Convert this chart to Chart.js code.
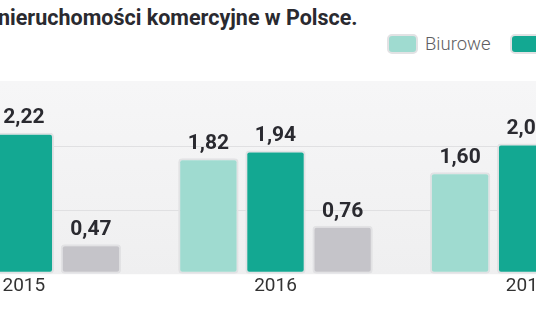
<!DOCTYPE html>
<html>
<head>
<meta charset="utf-8">
<script src="https://cdn.jsdelivr.net/npm/chart.js@4"></script>
<style>
  html, body { margin: 0; padding: 0; width: 536px; height: 332px; overflow: hidden; background: #fff; }
  #tytul { position: absolute; left: -2px; top: 5px; font: 700 21.5px Roboto, sans-serif; color: #2a2a30; white-space: nowrap; }
  #legenda { position: absolute; left: 387px; top: 33px; display: flex; white-space: nowrap; }
  .poz { display: flex; align-items: center; margin-right: 19px; }
  .kolor { width: 27px; height: 16px; border: 2px solid #e2e2e4; border-radius: 5px; margin-right: 7px; }
  .opis { font: 300 18.5px Roboto, sans-serif; color: #5e5e62; }
  #ramka { position: absolute; left: -102px; top: 0; width: 755px; height: 332px; }
</style>
</head>
<body>
<div id="tytul">nieruchomości komercyjne w Polsce.</div>
<div id="legenda"></div>
<div id="ramka"><canvas id="wykres"></canvas></div>
<script>
// dane (mld EUR) - fragment widoczny na obrazku
const lata = ['2015', '2016', '2017'];
const biurowe = [null, 1.82, 1.60];
const handlowe = [2.22, 1.94, 2.05];
const magazynowe = [0.47, 0.76, null];
const nazwySerii = ['Biurowe', 'Handlowe', 'Magazynowe'];
const kolory = ['#9fdbd0', '#13a892', '#c5c4c9'];

// legenda w HTML
const legenda = document.getElementById('legenda');
nazwySerii.forEach((nazwa, i) => {
    const poz = document.createElement('div');
    poz.className = 'poz';
    poz.innerHTML = `<div class="kolor" style="background:${kolory[i]}"></div><span class="opis">${nazwa}</span>`;
    legenda.appendChild(poz);
});

// tło obszaru wykresu
const tloPlugin = {
    id: 'tlo',
    beforeDraw(chart) {
        const { ctx, chartArea } = chart;
        const g = ctx.createLinearGradient(0, chartArea.top, 0, chartArea.bottom);
        g.addColorStop(0, '#f6f6f7');
        g.addColorStop(1, '#efeff0');
        ctx.save();
        ctx.fillStyle = g;
        ctx.fillRect(chartArea.left, chartArea.top - 2, chartArea.right - chartArea.left, chartArea.bottom - chartArea.top + 2);
        ctx.restore();
    }
};

// wartości nad słupkami
const etykietyPlugin = {
    id: 'etykiety',
    afterDatasetsDraw(chart) {
        const ctx = chart.ctx;
        ctx.save();
        ctx.font = '700 21px Roboto, sans-serif';
        ctx.fillStyle = '#2a2a30';
        ctx.textAlign = 'center';
        ctx.textBaseline = 'bottom';
        chart.data.datasets.forEach((ds, i) => {
            chart.getDatasetMeta(i).data.forEach((bar, j) => {
                const v = ds.data[j];
                if (v === null || v === undefined) return;
                ctx.fillText(v.toFixed(2).replace('.', ','), bar.x, bar.y - 4);
            });
        });
        ctx.restore();
    }
};

const serie = [biurowe, handlowe, magazynowe];

new Chart(document.getElementById('wykres'), {
    type: 'bar',
    data: {
        labels: lata,
        datasets: serie.map((dane, i) => ({
            label: nazwySerii[i],
            data: dane,
            backgroundColor: kolory[i],
            borderColor: '#e2e2e4',
            borderWidth: 2,
            borderRadius: 4,
            borderSkipped: false,
            categoryPercentage: 0.8,
            barPercentage: 0.9
        }))
    },
    options: {
        responsive: true,
        maintainAspectRatio: false,
        animation: false,
        layout: { padding: { top: 83, bottom: 41, left: 0, right: 0 } },
        plugins: {
            legend: { display: false },
            tooltip: { enabled: false }
        },
        scales: {
            x: {
                grid: { display: false },
                border: { display: false },
                ticks: {
                    padding: -7,
                    color: '#333',
                    font: { family: 'Roboto', size: 19, weight: '400' }
                }
            },
            y: {
                min: 0,
                max: 3,
                border: { display: false },
                grid: {
                    drawTicks: false,
                    color: (c) => (c.tick.value === 1 || c.tick.value === 2) ? '#e0e0e2' : 'rgba(0,0,0,0)'
                },
                ticks: { display: false, stepSize: 1 }
            }
        }
    },
    plugins: [tloPlugin, etykietyPlugin]
});
</script>
</body>
</html>
